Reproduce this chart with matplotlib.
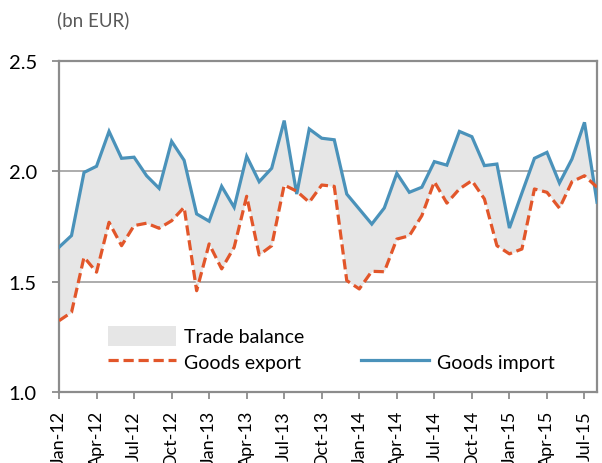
import matplotlib
matplotlib.use("Agg")
import matplotlib.pyplot as plt
from matplotlib.patches import Patch
from matplotlib.lines import Line2D

plt.rcParams['font.family'] = ['Lato', 'DejaVu Sans']

months = ["Jan-12","Feb-12","Mar-12","Apr-12","May-12","Jun-12","Jul-12","Aug-12","Sep-12","Oct-12","Nov-12","Dec-12",
          "Jan-13","Feb-13","Mar-13","Apr-13","May-13","Jun-13","Jul-13","Aug-13","Sep-13","Oct-13","Nov-13","Dec-13",
          "Jan-14","Feb-14","Mar-14","Apr-14","May-14","Jun-14","Jul-14","Aug-14","Sep-14","Oct-14","Nov-14","Dec-14",
          "Jan-15","Feb-15","Mar-15","Apr-15","May-15","Jun-15","Jul-15","Aug-15"]

goods_import = [1.656, 1.709, 1.995, 2.023, 2.181, 2.059, 2.064, 1.980, 1.923, 2.136, 2.050, 1.807,
                1.774, 1.932, 1.837, 2.068, 1.953, 2.014, 2.230, 1.897, 2.192, 2.150, 2.143, 1.897,
                1.829, 1.761, 1.834, 1.991, 1.905, 1.928, 2.044, 2.028, 2.181, 2.157, 2.026, 2.033,
                1.743, 1.902, 2.059, 2.086, 1.947, 2.056, 2.222, 1.860]

goods_export = [1.323, 1.361, 1.611, 1.543, 1.769, 1.663, 1.754, 1.765, 1.742, 1.776, 1.837, 1.459,
                1.671, 1.558, 1.656, 1.887, 1.621, 1.663, 1.938, 1.910, 1.860, 1.938, 1.932, 1.505,
                1.467, 1.547, 1.545, 1.693, 1.708, 1.799, 1.953, 1.856, 1.920, 1.958, 1.875, 1.663,
                1.626, 1.648, 1.920, 1.905, 1.833, 1.953, 1.980, 1.928]

tick_labels = ["Jan-12","Apr-12","Jul-12","Oct-12","Jan-13","Apr-13","Jul-13","Oct-13",
               "Jan-14","Apr-14","Jul-14","Oct-14","Jan-15","Apr-15","Jul-15"]

blue = "#4A92BA"
orange = "#E2562A"
fill_gray = "#E6E6E6"
frame_gray = "#8C8C8C"

fig = plt.figure(figsize=(6.02, 4.64), dpi=100)
ax = fig.add_axes([59/602, 1-393/464, (597-59)/602, (393-62)/464])

x = list(range(len(months)))
ax.fill_between(x, goods_export, goods_import, color=fill_gray, lw=0, zorder=1)
ax.plot(x, goods_import, color=blue, lw=2.3, zorder=3, solid_joinstyle='miter')
ax.plot(x, goods_export, color=orange, lw=2.3, linestyle=(0, (3.2, 1.5)), zorder=4)

ax.set_xlim(0, len(months) - 1)
ax.set_ylim(1.0, 2.5)
ax.set_yticks([1.0, 1.5, 2.0, 2.5])
ax.set_yticklabels(["1.0", "1.5", "2.0", "2.5"])
ax.yaxis.grid(True, color="#A6A6A6", lw=1.3, zorder=0)
ax.set_axisbelow(True)

tick_pos = [months.index(t) for t in tick_labels]
ax.set_xticks(tick_pos)
ax.set_xticklabels(tick_labels, rotation=90, va='top', ha='center')

for s in ax.spines.values():
    s.set_color(frame_gray)
    s.set_linewidth(1.6)

ax.tick_params(axis='y', length=5, width=1.3, color=frame_gray, pad=11, labelsize=14.5, labelcolor='black')
ax.tick_params(axis='x', length=5, width=1.3, color=frame_gray, pad=8, labelsize=13, labelcolor='black')

fig.text(57/602, 1-20/464, "(bn EUR)", fontsize=13.5, color="#595959", va='center', ha='left')

handles = [Patch(facecolor=fill_gray, edgecolor='none'),
           Line2D([], [], color=orange, lw=2.3, linestyle=(0, (3.2, 1.5))),
           Line2D([], [], color='none'),
           Line2D([], [], color=blue, lw=2.3)]
labels = ["Trade balance", "Goods export", " ", "Goods import"]
leg = ax.legend(handles, labels, ncol=2, loc='upper left',
                bbox_to_anchor=((100-59)/538, 1-(319-62)/331),
                frameon=False, fontsize=14, handlelength=3.5, handleheight=1.2,
                handletextpad=0.4, columnspacing=2.95, labelspacing=0.3, borderaxespad=0)

fig.savefig("out.png", dpi=100)
